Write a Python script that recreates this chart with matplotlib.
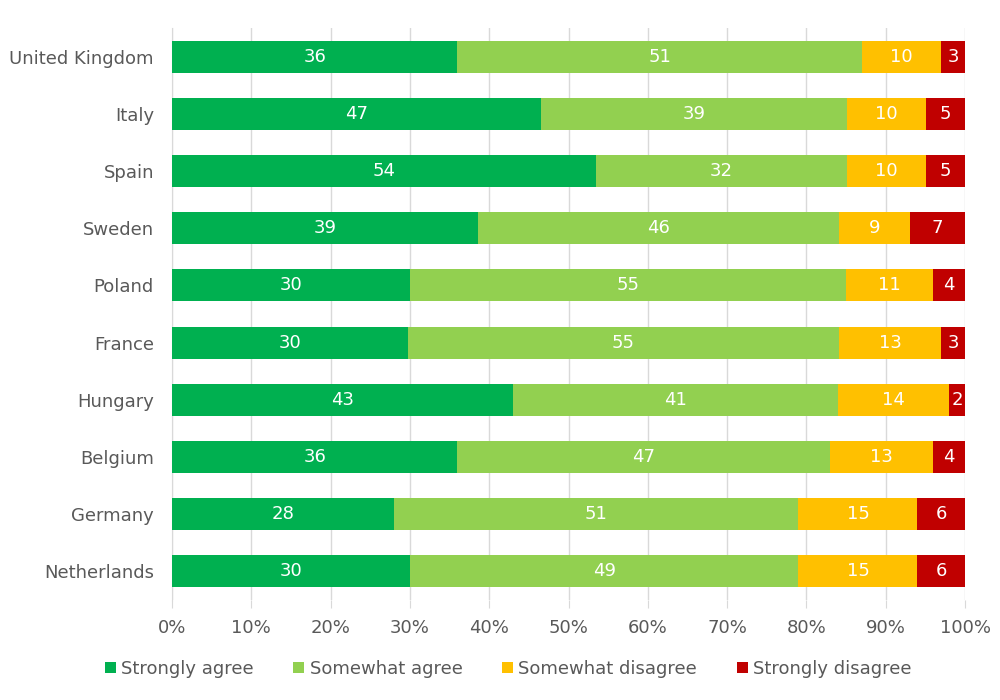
import matplotlib.pyplot as plt
import numpy as np

plt.rcParams['font.family'] = 'sans-serif'
plt.rcParams['font.sans-serif'] = ['DejaVu Sans']

countries = ['United Kingdom', 'Italy', 'Spain', 'Sweden', 'Poland',
             'France', 'Hungary', 'Belgium', 'Germany', 'Netherlands']
strongly_agree = [36, 47, 54, 39, 30, 30, 43, 36, 28, 30]
somewhat_agree = [51, 39, 32, 46, 55, 55, 41, 47, 51, 49]
somewhat_disagree = [10, 10, 10, 9, 11, 13, 14, 13, 15, 15]
strongly_disagree = [3, 5, 5, 7, 4, 3, 2, 4, 6, 6]

series_names = ['Strongly agree', 'Somewhat agree', 'Somewhat disagree', 'Strongly disagree']
colors = ['#00B050', '#92D050', '#FFC000', '#C00000']

data = np.array([strongly_agree, somewhat_agree, somewhat_disagree, strongly_disagree], dtype=float)
totals = data.sum(axis=0)
shares = data / totals * 100

fig = plt.figure(figsize=(10, 7), dpi=100)
ax = fig.add_axes([0.172, 0.143, 0.793, 0.817])

y = np.arange(len(countries))
left = np.zeros(len(countries))
for vals, raw, name, col in zip(shares, data, series_names, colors):
    ax.barh(y, vals, left=left, height=0.56, color=col, label=name, zorder=3)
    for yi, l, v, r in zip(y, left, vals, raw):
        ax.text(l + v / 2, yi, f'{int(r)}', ha='center', va='center',
                color='white', fontsize=13, zorder=4)
    left += vals

ax.set_xlim(0, 100)
ax.set_ylim(len(countries) - 0.5, -0.5)
ax.set_yticks(y)
ax.set_yticklabels(countries, fontsize=13, color='#595959')
ax.set_xticks(np.arange(0, 101, 10))
ax.set_xticklabels([f'{v}%' for v in range(0, 101, 10)], fontsize=13, color='#595959')
ax.tick_params(axis='y', length=0, pad=13)
ax.tick_params(axis='x', length=6, color='#D9D9D9', pad=8)
ax.grid(axis='x', color='#D9D9D9', linewidth=1, zorder=0)
for s in ['top', 'right', 'bottom']:
    ax.spines[s].set_visible(False)
ax.spines['left'].set_color('#D9D9D9')

ax.legend(loc='upper center', bbox_to_anchor=(0.424, -0.076), ncol=4, frameon=False,
          fontsize=13, labelcolor='#595959', handlelength=0.6, handleheight=0.6,
          handletextpad=0.3, columnspacing=2.2)

fig.savefig('out.png', dpi=100)
